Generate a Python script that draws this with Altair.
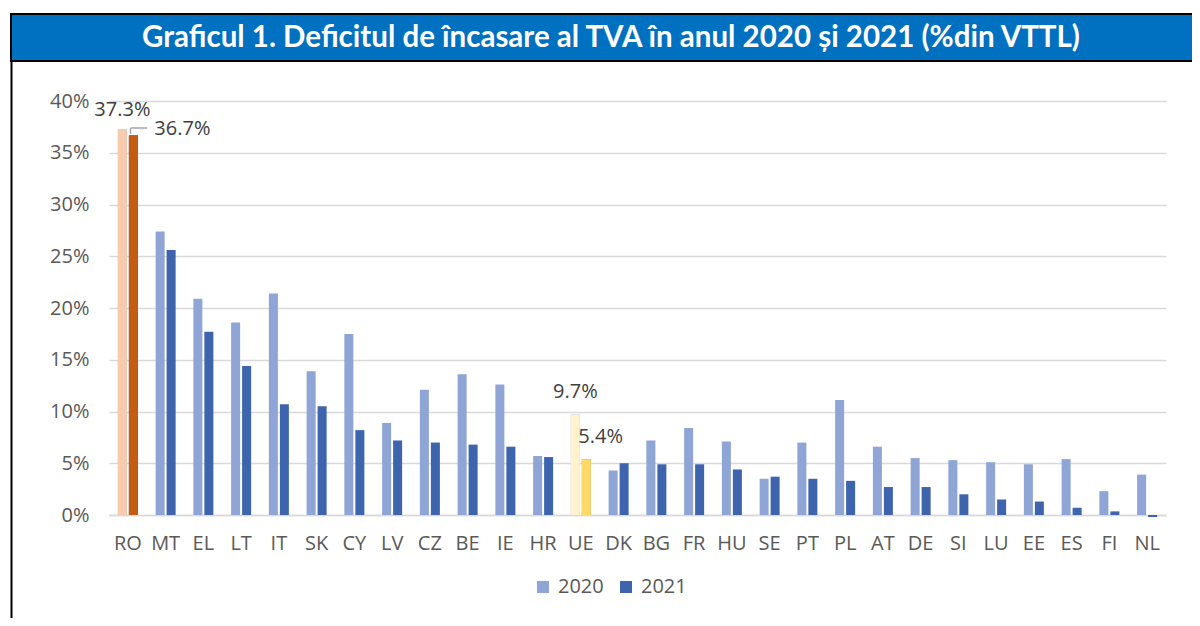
import altair as alt
import pandas as pd

countries = ["RO", "MT", "EL", "LT", "IT", "SK", "CY", "LV", "CZ", "BE", "IE", "HR", "UE", "DK",
             "BG", "FR", "HU", "SE", "PT", "PL", "AT", "DE", "SI", "LU", "EE", "ES", "FI", "NL"]
v2020 = [37.3, 27.4, 20.9, 18.6, 21.4, 13.9, 17.5, 8.9, 12.1, 13.6, 12.6, 5.7, 9.7, 4.3,
         7.2, 8.4, 7.1, 3.5, 7.0, 11.1, 6.6, 5.5, 5.3, 5.1, 4.9, 5.4, 2.3, 3.9]
v2021 = [36.7, 25.6, 17.7, 14.4, 10.7, 10.5, 8.2, 7.2, 7.0, 6.8, 6.6, 5.6, 5.4, 5.0,
         4.9, 4.9, 4.4, 3.7, 3.5, 3.3, 2.7, 2.7, 2.0, 1.5, 1.3, 0.7, 0.35, -0.2]
years = ["2020", "2021"]
y_ticks = [0, 5, 10, 15, 20, 25, 30, 35, 40]
title_text = "Graficul 1. Deficitul de încasare al TVA în anul 2020 și 2021 (%din VTTL)"

blue = {"2020": "#8FA5D6", "2021": "#3D64AD"}
special = {("RO", "2020"): "#F8CBAD", ("RO", "2021"): "#C55A11",
           ("UE", "2020"): "#FFF2CC", ("UE", "2021"): "#FFD966"}

rows = []
for c, a, b in zip(countries, v2020, v2021):
    for yr, v in zip(years, [a, b]):
        rows.append({"country": c, "year": yr, "value": v,
                     "fill": special.get((c, yr), blue[yr])})
df = pd.DataFrame(rows)
df_special = df[df["country"].isin(["RO", "UE"])]

FONT = "Open Sans"
GRAY = "#595959"

x_enc = alt.X("country:N", sort=countries,
              scale=alt.Scale(paddingInner=0.47, paddingOuter=0.235),
              axis=alt.Axis(title=None, labelAngle=0, ticks=False, domain=True,
                            domainColor="#D9D9D9", domainWidth=1.5,
                            labelFontSize=20, labelFont=FONT, labelColor=GRAY,
                            labelPadding=18))
xo_enc = alt.XOffset("year:N", sort=years, scale=alt.Scale(paddingInner=0.18, paddingOuter=0))
y_enc = alt.Y("value:Q", scale=alt.Scale(domain=[0, 40], nice=False),
              axis=alt.Axis(title=None, values=y_ticks, labelExpr="datum.value + '%'",
                            grid=True, gridColor="#D9D9D9", gridWidth=1.5,
                            domain=False, ticks=False, labelFontSize=20, labelFont=FONT,
                            labelColor=GRAY, labelPadding=20))

bars = alt.Chart(df).mark_bar().encode(
    x=x_enc, xOffset=xo_enc, y=y_enc,
    color=alt.Color("year:N", scale=alt.Scale(domain=years, range=[blue["2020"], blue["2021"]]),
                    legend=alt.Legend(orient="none", legendX=424, legendY=476,
                                      direction="horizontal", title=None,
                                      symbolType="square", symbolSize=144,
                                      symbolStrokeWidth=0, labelFontSize=20,
                                      labelFont=FONT, labelColor=GRAY,
                                      columnPadding=12, labelOffset=5, padding=0)),
)

bars_special = alt.Chart(df_special).mark_bar().encode(
    x=alt.X("country:N", sort=countries), xOffset=alt.XOffset("year:N", sort=years),
    y="value:Q", fill=alt.Fill("fill:N", scale=None),
)


def label(country, year, **kw):
    d = df[(df["country"] == country) & (df["year"] == year)].copy()
    d["label"] = d["value"].map(lambda v: f"{v:.1f}%")
    return alt.Chart(d).mark_text(font=FONT, fontSize=20, color="#404040",
                                  baseline="middle", **kw).encode(
        x=alt.X("country:N", sort=countries), xOffset=alt.XOffset("year:N", sort=years),
        y="value:Q", text="label:N")


labels = [
    label("RO", "2020", dy=-19, align="center"),
    label("RO", "2021", dx=21, dy=-6, align="left"),
    label("UE", "2020", dy=-23, align="center"),
    label("UE", "2021", dx=-8, dy=-22, align="left"),
]

one = pd.DataFrame({"k": [0]})
leader_v = alt.Chart(one).mark_rule(color="#A6A6A6", strokeWidth=1.5).encode(
    x=alt.value(21.5), y=alt.value(27), y2=alt.value(33))
leader_h = alt.Chart(one).mark_rule(color="#A6A6A6", strokeWidth=1.5).encode(
    x=alt.value(21.5), x2=alt.value(38), y=alt.value(27))

title_bar = alt.Chart(one).mark_rect(fill="#0070C0", stroke="black", strokeWidth=2).encode(
    x=alt.value(-98), x2=alt.value(1100), y=alt.value(-87), y2=alt.value(-40))
frame = alt.Chart(one).mark_rule(color="black", strokeWidth=2).encode(
    x=alt.value(-97.5), y=alt.value(-40), y2=alt.value(540))
title = alt.Chart(one).mark_text(font="Lato", fontWeight="bold", fontSize=29.5, color="white",
                                 align="center", baseline="middle").encode(
    x=alt.value(502), y=alt.value(-63.5), text=alt.value(title_text))

chart = alt.layer(title_bar, frame, title, bars, bars_special, *labels, leader_v, leader_h).properties(
    width=1057, height=414,
    padding={"left": 101, "top": 93, "right": 26, "bottom": 103},
    autosize=alt.AutoSizeParams(type="none"),
).configure_view(stroke=None)

chart.save("out.html", embed_options={"renderer": "svg", "actions": False})
